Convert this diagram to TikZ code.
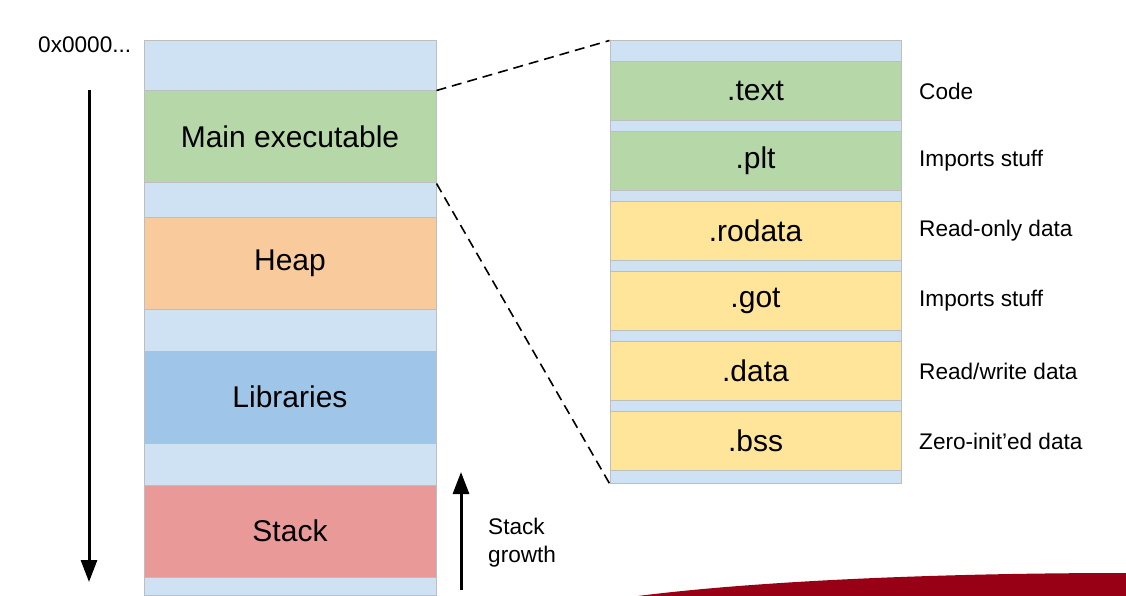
\documentclass[tikz,border=0pt]{standalone}
\usepackage{fontspec}
\setmainfont{Liberation Sans}
\usepackage{tikz}
\usetikzlibrary{arrows.meta}
\definecolor{gapblue}{RGB}{207,226,243}
\definecolor{exegreen}{RGB}{182,215,168}
\definecolor{heaporange}{RGB}{249,203,156}
\definecolor{libblue}{RGB}{159,197,232}
\definecolor{stackred}{RGB}{234,153,153}
\definecolor{datayellow}{RGB}{255,229,153}
\definecolor{edgegray}{RGB}{190,190,190}
\definecolor{swoosh}{RGB}{152,0,22}
\tikzset{
  seg/.style={draw=edgegray, line width=1pt, inner sep=0pt, minimum width=292pt, minimum height=92pt, font=\fontsize{30}{36}\selectfont},
  sec/.style={seg, minimum width=291pt, minimum height=59pt, fill=datayellow},
  note/.style={anchor=west, inner sep=0pt, font=\fontsize{22.6}{27}\selectfont},
  zoomline/.style={line width=1.6pt, dash pattern=on 10pt off 6pt},
  bigarrow/.style={line width=3pt, -{Triangle[length=22pt,width=16pt]}}
}
\begin{document}
\begin{tikzpicture}[x=1pt,y=-1pt]
\useasboundingbox (0,0) rectangle (1126,596);
% address space
\node[seg, fill=gapblue, minimum height=554pt] (mem) at (290,318) {};
\node[seg, fill=exegreen] (main) at (290,137) {Main executable};
\node[seg, fill=heaporange] (heap) at (290,263) {Heap};
\node[seg, fill=libblue] (libs) at (290,397) {Libraries};
\node[seg, fill=stackred] (stack) at (290,531) {Stack};
\node[note] (addr) at (38,45) {0x0000...};
% sections of the executable
\node[sec, fill=gapblue, minimum height=442pt] (elf) at (755.5,262) {};
\foreach \name/\lbl/\col/\desc [count=\i] in {
    text/.text/exegreen/Code,
    plt/.plt/exegreen/Imports stuff,
    rodata/.rodata/datayellow/Read-only data,
    got/.got/datayellow/Imports stuff,
    data/.data/datayellow/{Read/write data},
    bss/.bss/datayellow/Zero-init'ed data}{
  \node[sec, fill=\col] (\name) at (755.5,{21+70*\i}) {\lbl};
  \node[note] (\name-desc) at (919,{21+70*\i}) {\desc};
}
% zoom lines
\draw[zoomline] (main.north east) -- (elf.north west);
\draw[zoomline] (main.south east) -- (elf.south west);
% arrows
\coordinate (down-a) at (89,90);
\coordinate (down-b) at (89,582);
\draw[bigarrow] (down-a) -- (down-b);
\coordinate (up-a) at (461,590);
\coordinate (up-b) at (461,472);
\draw[bigarrow] (up-a) -- (up-b);
\node[note, align=left, anchor=north west] (growth) at (488,518) {Stack\\[1pt]growth};
% footer swoosh
\fill[swoosh] (630,597) .. controls (760,580) and (950,573) .. (1126,573) -- (1126,597) -- cycle;
\end{tikzpicture}
\end{document}
